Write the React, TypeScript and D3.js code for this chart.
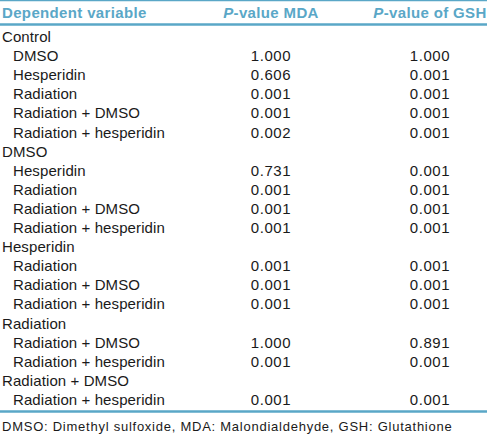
import React from "react";
import * as d3 from "d3";

const headers = ["Dependent variable", "-value MDA", "-value of GSH"];
const rowLabels = [
  "Control", "DMSO", "Hesperidin", "Radiation", "Radiation + DMSO", "Radiation + hesperidin",
  "DMSO", "Hesperidin", "Radiation", "Radiation + DMSO", "Radiation + hesperidin",
  "Hesperidin", "Radiation", "Radiation + DMSO", "Radiation + hesperidin",
  "Radiation", "Radiation + DMSO", "Radiation + hesperidin",
  "Radiation + DMSO", "Radiation + hesperidin",
];
const rowLevel = [0, 1, 1, 1, 1, 1, 0, 1, 1, 1, 1, 0, 1, 1, 1, 0, 1, 1, 0, 1];
const mdaValues = [
  "", "1.000", "0.606", "0.001", "0.001", "0.002",
  "", "0.731", "0.001", "0.001", "0.001",
  "", "0.001", "0.001", "0.001",
  "", "1.000", "0.001",
  "", "0.001",
];
const gshValues = [
  "", "1.000", "0.001", "0.001", "0.001", "0.001",
  "", "0.001", "0.001", "0.001", "0.001",
  "", "0.001", "0.001", "0.001",
  "", "0.891", "0.001",
  "", "0.001",
];
const footnote = "DMSO: Dimethyl sulfoxide, MDA: Malondialdehyde, GSH: Glutathione";

const W = 487;
const H = 436;
const BLUE = "#5aa7c7";
const FONT = "'Liberation Sans', Arial, sans-serif";

export default function App() {
  const y = d3.scaleLinear().domain([0, rowLabels.length - 1]).range([42, 405]);
  const x = d3.scaleOrdinal<string, number>().domain(["label", "mda", "gsh"]).range([2, 271, 430]);
  return (
    <svg width={W} height={H} style={{ position: "absolute", left: 0, top: 0, background: "#fff" }}
      fontFamily={FONT}>
      <line x1={0} x2={W} y1={0.5} y2={0.5} stroke={BLUE} strokeWidth={1.5} />
      <g fontWeight="bold" fill={BLUE} fontSize={15} letterSpacing={0.35}>
        <text x={x("label")} y={18}>{headers[0]}</text>
        <text x={x("mda")} y={18} textAnchor="middle"><tspan fontStyle="italic">P</tspan>{headers[1]}</text>
        <text x={x("gsh")} y={18} textAnchor="middle"><tspan fontStyle="italic">P</tspan>{headers[2]}</text>
      </g>
      <line x1={0} x2={W} y1={24.5} y2={24.5} stroke={BLUE} strokeWidth={2.5} />
      <g fontSize={15} fill="#1a1a1a">
        {rowLabels.map((lab, i) => (
          <g key={i}>
            <text x={x("label") + rowLevel[i] * 11} y={y(i)} letterSpacing={0.1}>{lab}</text>
            <text x={x("mda")} y={y(i)} textAnchor="middle" letterSpacing={0.6}>{mdaValues[i]}</text>
            <text x={x("gsh")} y={y(i)} textAnchor="middle" letterSpacing={0.6}>{gshValues[i]}</text>
          </g>
        ))}
      </g>
      <line x1={0} x2={W} y1={411.5} y2={411.5} stroke={BLUE} strokeWidth={2.5} />
      <text x={2} y={431} fontSize={13} fill="#1a1a1a" letterSpacing={0.75}>{footnote}</text>
    </svg>
  );
}
